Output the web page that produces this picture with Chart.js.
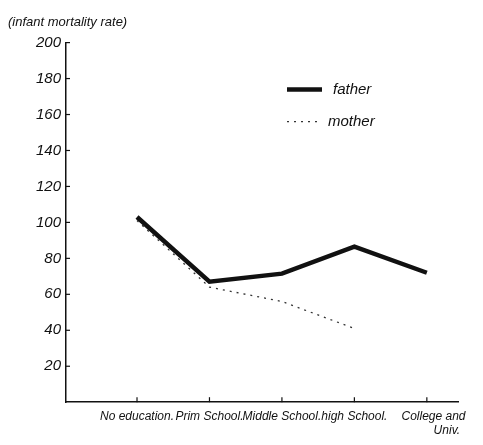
<!DOCTYPE html>
<html>
<head>
<meta charset="utf-8">
<script src="https://cdn.jsdelivr.net/npm/chart.js@4/dist/chart.umd.min.js"></script>
<style>
  html, body { margin: 0; padding: 0; background: #fff; }
  #wrap { width: 483px; height: 445px; }
</style>
</head>
<body>
<div id="wrap"><canvas id="chart" width="483" height="445"></canvas></div>
<script>
const categories = ['No education.', 'Prim School.', 'Middle School.', 'high School.', ['    College and', '            Univ.']];
const fatherRates = [103, 67, 71.5, 86.5, 72];
const motherRates = [101, 64, 56, 41, null];
const yTickValues = [20, 40, 60, 80, 100, 120, 140, 160, 180, 200];

const ink = '#111';
const hand = 'Liberation Sans';

// tick marks point inward on this drawing, and the legend sits inside the plot
const handMarks = {
  id: 'handMarks',
  afterDraw(chart) {
    const {ctx, chartArea, scales: {x, y}} = chart;
    const line = (x1, y1, x2, y2) => {
      ctx.beginPath(); ctx.moveTo(x1, y1); ctx.lineTo(x2, y2); ctx.stroke();
    };
    ctx.save();
    ctx.strokeStyle = ink;
    ctx.lineWidth = 1.2;
    y.ticks.forEach((t) => {
      const py = y.getPixelForValue(t.value);
      line(chartArea.left, py, chartArea.left + 4, py);
    });
    x.ticks.forEach((t) => {
      const px = x.getPixelForValue(t.value);
      line(px, chartArea.bottom, px, chartArea.bottom - 5);
    });

    ctx.font = 'italic 15px "' + hand + '"';
    ctx.fillStyle = ink;
    ctx.textBaseline = 'middle';
    chart.data.datasets.forEach((ds, i) => {
      const lx = chartArea.left + 221;
      const ly = chartArea.top + 47 + i * 32;
      ctx.strokeStyle = ds.borderColor;
      ctx.lineWidth = ds.borderWidth;
      ctx.setLineDash(ds.borderDash || []);
      line(lx, ly, lx + 35, ly);
      ctx.setLineDash([]);
      ctx.fillText(ds.label, lx + 46 - i * 5, ly);
    });
    ctx.restore();
  }
};

new Chart(document.getElementById('chart'), {
  type: 'line',
  data: {
    datasets: [
      {
        label: 'father',
        data: fatherRates.map((v, i) => ({x: i + 1, y: v})),
        borderColor: ink,
        borderWidth: 4.5,
        pointRadius: 0,
        tension: 0,
      },
      {
        label: 'mother',
        data: motherRates.map((v, i) => ({x: i + 1, y: v})),
        borderColor: '#333',
        borderWidth: 1.3,
        borderDash: [2, 5],
        pointRadius: 0,
        tension: 0,
        spanGaps: false,
      },
    ],
  },
  options: {
    responsive: false,
    animation: false,
    layout: {padding: {left: 8, right: 25, top: 0, bottom: 0}},
    plugins: {
      legend: {display: false},
      tooltip: {enabled: false},
      title: {
        display: true,
        text: '(infant mortality rate)',
        align: 'start',
        color: ink,
        font: {family: hand, size: 13, style: 'italic', weight: 'normal'},
        padding: {top: 15, bottom: 12},
      },
    },
    scales: {
      x: {
        type: 'linear',
        min: 0.02,
        max: 5.43,
        afterBuildTicks: (scale) => {
          scale.ticks = categories.map((c, i) => ({value: i + 1}));
        },
        grid: {display: false, drawTicks: false},
        border: {display: true, color: ink, width: 1.5},
        ticks: {
          color: ink,
          padding: 7,
          maxRotation: 0,
          autoSkip: false,
          font: {family: hand, size: 12, style: 'italic'},
          callback: (value) => categories[value - 1],
        },
      },
      y: {
        min: 0,
        max: 200,
        afterBuildTicks: (scale) => {
          scale.ticks = yTickValues.map((v) => ({value: v}));
        },
        afterFit: (scale) => { scale.width = 58; },
        grid: {display: false, drawTicks: false},
        border: {display: true, color: ink, width: 1.5},
        ticks: {
          color: ink,
          padding: 5,
          font: {family: hand, size: 15, style: 'italic'},
        },
      },
    },
  },
  plugins: [handMarks],
});
</script>
</body>
</html>
